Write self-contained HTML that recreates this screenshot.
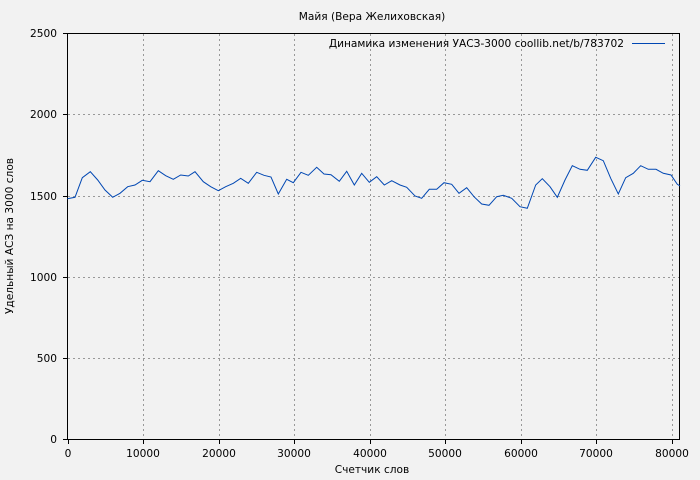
<!DOCTYPE html><html><head><meta charset="utf-8"><style>body{margin:0;background:#f2f2f2}svg{display:block}text{font-family:"DejaVu Sans",sans-serif;font-size:10.6px;fill:#000}</style></head><body>
<svg width="700" height="480" xmlns="http://www.w3.org/2000/svg">
<rect width="700" height="480" fill="#f2f2f2"/>
<g stroke="#999" stroke-dasharray="2,3" stroke-width="1">
<path d="M143.5 34V439M219.5 34V439M294.5 34V439M370.5 34V439M445.5 34V439M521.5 34V439M596.5 34V439M672.5 34V439"/>
<path d="M68 114.5H679M68 196.5H679M68 277.5H679M68 358.5H679"/>
</g>
<rect x="67.5" y="33.5" width="612" height="406" fill="none" stroke="#000"/>
<g stroke="#000"><path d="M63 33.5H68M63 114.5H68M63 196.5H68M63 277.5H68M63 358.5H68M63 439.5H68M68.5 439V444M143.5 439V444M219.5 439V444M294.5 439V444M370.5 439V444M445.5 439V444M521.5 439V444M596.5 439V444M672.5 439V444"/></g>
<polyline fill="none" stroke="#0047b3" stroke-width="1" points="67.3,198.7 75,197.3 82.3,177.7 90.3,171.7 97.7,180 105,190 112.7,197.3 120,193.3 127.7,186.7 135,185 142.3,180.3 150,181.7 158.3,170.7 165.7,175.7 173.3,179.3 180.7,175 188.3,176 195,171.7 203.3,181.7 210.7,186.7 218.3,190.7 225.7,186.7 233.3,183.3 240.7,178.3 248.3,183.3 256.7,172.3 264,175.3 271,177 278.3,194 286.7,179.3 293.3,182.7 301,172.3 308.3,175.3 316.7,167.3 324,174 331,174.7 339.3,181.3 346.7,171.3 354.3,185 361.7,173.3 369.3,182.3 376.7,176.7 384.3,185 391.7,180.7 400,185 406.7,187.3 415,196 421.7,198.3 429.3,189.3 436.7,189.3 444,182.7 451.7,184.3 459,193.3 466.7,187.7 474,196.7 481.7,204 489,205.3 496.7,196.7 503.3,195.3 511.7,198.3 520,206.7 527.3,208.3 535.7,185 542.3,178.7 550,186.7 557.3,197.3 565,180 572.3,165.7 580,169.3 587.3,170.3 595.7,157.3 603.3,160.7 610.7,178.3 618.3,194 625.7,177.7 633.3,173.3 640.7,165.7 648.3,169.3 656,169.3 663.3,173.3 671,175 677.3,184.3 680,186"/>
<text x="372" y="20" text-anchor="middle">Майя (Вера Желиховская)</text>
<text x="624" y="47" text-anchor="end">Динамика изменения УАСЗ-3000 coollib.net/b/783702</text>
<line x1="632" y1="43.5" x2="665" y2="43.5" stroke="#0047b3"/>
<g text-anchor="end"><text x="57" y="37">2500</text><text x="57" y="118">2000</text><text x="57" y="200">1500</text><text x="57" y="281">1000</text><text x="57" y="362">500</text><text x="57" y="443">0</text></g>
<g text-anchor="middle"><text x="68" y="457">0</text><text x="143" y="457">10000</text><text x="219" y="457">20000</text><text x="294" y="457">30000</text><text x="370" y="457">40000</text><text x="445" y="457">50000</text><text x="521" y="457">60000</text><text x="596" y="457">70000</text><text x="672" y="457">80000</text></g>
<text x="372" y="473" text-anchor="middle">Счетчик слов</text>
<text transform="translate(13,236) rotate(-90)" text-anchor="middle">Удельный АСЗ на 3000 слов</text>
</svg></body></html>
